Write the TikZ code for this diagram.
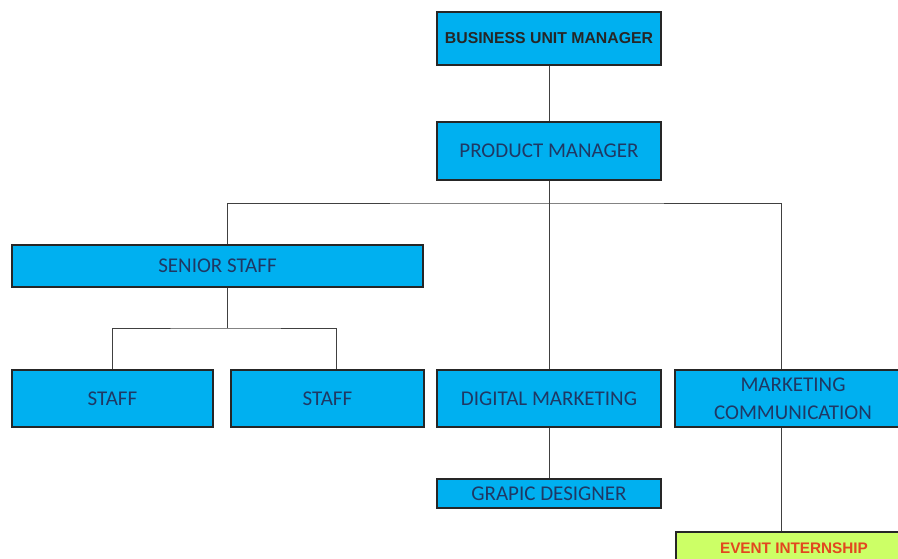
\documentclass[tikz,border=0pt]{standalone}
\usepackage{fontspec}
\setmainfont{Carlito}
\newfontfamily\arialfont{Liberation Sans}
\definecolor{boxblue}{HTML}{00B0F0}
\definecolor{textblue}{HTML}{1F3864}
\definecolor{eventgreen}{HTML}{CCFF66}
\definecolor{eventred}{HTML}{E2471F}
\begin{document}
\begin{tikzpicture}[x=1pt, y=-1pt,
    main/.style={draw=black!85, line width=1.3pt, fill=boxblue, text=textblue, inner sep=0pt,
      align=center, font=\fontsize{21}{28}\selectfont},
    head/.style={main, text=black!85, font=\arialfont\bfseries\fontsize{15.8}{18}\selectfont},
    link/.style={draw=black!75, line width=0.8pt}]
    \useasboundingbox (0,0) rectangle (898,559);
    \clip (0,0) rectangle (898,559);
    \node[head, minimum width=224, minimum height=53] (bum) at (549,38.5) {BUSINESS UNIT MANAGER};
    \node[main, minimum width=224, minimum height=58] (pm) at (549,151) {PRODUCT MANAGER};
    \node[main, minimum width=411, minimum height=42] (ss) at (217.5,266) {SENIOR STAFF};
    \node[main, minimum width=201, minimum height=57] (st1) at (112.5,398.5) {STAFF};
    \node[main, minimum width=193, minimum height=57] (st2) at (327.5,398.5) {STAFF};
    \node[main, minimum width=224, minimum height=57] (dm) at (549,398.5) {DIGITAL MARKETING};
    \node[main, minimum width=236, minimum height=57] (mc) at (793,398.5) {MARKETING\\COMMUNICATION};
    \node[main, minimum width=224, minimum height=29] (gd) at (549,493.5) {GRAPIC DESIGNER};
    \node[head, fill=eventgreen, text=eventred, font=\arialfont\bfseries\fontsize{15.3}{18}\selectfont,
      minimum width=236, minimum height=32] (ei) at (794,548) {EVENT INTERNSHIP};
    \coordinate (hub) at (549,203);
    \coordinate (sub) at (227,328);
    \draw[link] (bum) -- (pm);
    \draw[link] (pm) -- (dm);
    \draw[link] ([xshift=9.5]ss.north) |- (hub) -| ([xshift=-12]mc.north);
    \draw[link] ([xshift=9.5]ss.south) -- (sub);
    \draw[link] (st1.north) |- (sub) -| ([xshift=8.5]st2.north);
    \draw[link] (dm) -- (gd);
    \draw[link] ([xshift=-12]mc.south) -- ([xshift=-13]ei.north);
\end{tikzpicture}
\end{document}
